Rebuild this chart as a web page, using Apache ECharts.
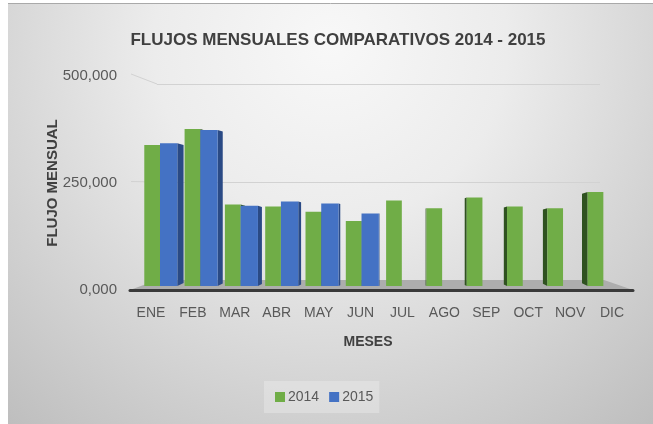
<!DOCTYPE html>
<html>
<head>
<meta charset="utf-8">
<script src="https://cdn.jsdelivr.net/npm/echarts@6/dist/echarts.min.js"></script>
<style>
html,body{margin:0;padding:0;background:#fff;}
#chart{width:653px;height:424px;}
</style>
</head>
<body>
<div id="chart"></div>
<script>
const months = ['ENE','FEB','MAR','ABR','MAY','JUN','JUL','AGO','SEP','OCT','NOV','DIC'];
const flujo2014 = [339000,376000,200000,195000,183000,161000,209000,191000,216000,195000,191000,229000];
const flujo2015 = [343000,374000,197000,207000,202000,179000,null,null,null,null,null,null];
const yTicks = [0,250000,500000];
const yTickLabels = ['0,000','250,000','500,000'];
const seriesNames = ['2014','2015'];

const FONT = '"Liberation Sans","Arial",sans-serif';
const GREEN = '#70ad47', GREEN_SIDE = '#2f5220';
const BLUE = '#4472c4', BLUE_SIDE = '#2a4a85';
const VP = 400;

function makeRender(which){
  return function(params, api){
    const i = api.value(0), v = api.value(1);
    const top = api.coord([i, v]);
    const base = api.coord([i, 0]);
    const band = api.size([1, 0])[0];
    const w = which === 0 ? band * 0.39 : band * 0.43;
    const x0 = which === 0 ? top[0] - w : top[0];
    const x1 = x0 + w;
    const y0 = top[1], y1 = base[1] - 4;
    const front = which === 0 ? GREEN : BLUE;
    const sideC = which === 0 ? GREEN_SIDE : BLUE_SIDE;
    const children = [];
    if (x1 < VP) {
      const sw = (VP - x1) * 0.028;
      children.push({type:'polygon', shape:{points:[[x1,y0],[x1+sw,y0+sw*0.3],[x1+sw,y1-sw*0.5],[x1,y1]]}, style:{fill:sideC}});
    } else if (x0 > VP) {
      const sw = (x0 - VP) * 0.03;
      children.push({type:'polygon', shape:{points:[[x0,y0],[x0-sw,y0+sw*0.3],[x0-sw,y1-sw*0.5],[x0,y1]]}, style:{fill:sideC}});
    }
    children.push({type:'rect', shape:{x:x0, y:y0, width:w, height:y1-y0}, style:{fill:front}});
    return {type:'group', children};
  };
}

const data2014 = flujo2014.map((v,i)=>[i,v]);
const data2015 = flujo2015.map((v,i)=>[i,v]).filter(d=>d[1]!=null);

const chart = echarts.init(document.getElementById('chart'), null, {renderer:'canvas'});
chart.setOption({
  backgroundColor:'#ffffff',
  animation:false,
  title:{
    text:'FLUJOS MENSUALES COMPARATIVOS 2014 - 2015',
    left:333, top:27, textAlign:'center',
    textStyle:{fontFamily:FONT, fontSize:17, fontWeight:'bold', color:'#404040'}
  },
  legend:{
    data:seriesNames,
    left:264, top:381,
    itemWidth:10, itemHeight:10, itemGap:10,
    icon:'rect',
    padding:[9,6,9,11],
    backgroundColor:'rgba(255,255,255,0.25)',
    textStyle:{fontFamily:FONT, fontSize:14, color:'#595959', padding:[0,0,0,-2]}
  },
  graphic:{elements:[
    {type:'rect', z:-100, silent:true, shape:{x:8,y:3,width:645,height:421},
     style:{fill:new echarts.graphic.RadialGradient(0.5,0.1,1.2,[
       {offset:0,color:'#f8f8f8'},{offset:0.35,color:'#ececec'},{offset:1,color:'#bdbdbd'}])}},
    {type:'line', z:-99, silent:true, shape:{x1:8,y1:3.5,x2:653,y2:3.5}, style:{stroke:'#a9a9a9', lineWidth:1}},
    {type:'polygon', z:1, silent:true, shape:{points:[[130,290],[633,290],[604,280],[157,280]]},
     style:{fill:'#adadad'}},
    {type:'line', z:0, silent:true, shape:{x1:131,y1:74,x2:157,y2:84}, style:{stroke:'#d2d2d2', lineWidth:1}},
    {type:'line', z:0, silent:true, shape:{x1:131,y1:181.5,x2:157,y2:182}, style:{stroke:'#d2d2d2', lineWidth:1}}
  ]},
  grid:[
    {left:130, right:20, top:76, bottom:134},
    {left:139.85, right:29.5, top:76, bottom:134},
    {left:157, right:53, top:84, bottom:144}
  ],
  xAxis:[
    {type:'category', gridIndex:0, data:months, z:5,
     axisLine:{lineStyle:{color:'#3a3a3a', width:3}},
     axisTick:{show:false},
     axisLabel:{fontFamily:FONT, fontSize:14, color:'#595959', margin:16, interval:0},
     name:'MESES', nameLocation:'middle', nameGap:45,
     nameTextStyle:{fontFamily:FONT, fontSize:14, fontWeight:'bold', color:'#404040', padding:[0,27,0,0]}},
    {type:'category', gridIndex:1, data:months, show:false},
    {type:'category', gridIndex:2, data:months, show:false}
  ],
  yAxis:[
    {type:'value', gridIndex:0, min:0, max:500000, interval:250000,
     axisLine:{show:false}, axisTick:{show:false}, splitLine:{show:false},
     axisLabel:{fontFamily:FONT, fontSize:15, color:'#595959', margin:13,
       formatter:function(v){ const k = yTicks.indexOf(v); return k>=0 ? yTickLabels[k] : ''; }},
     name:'FLUJO MENSUAL', nameLocation:'middle', nameGap:70, nameRotate:90,
     nameMoveOverlap:false,
     nameTextStyle:{fontFamily:FONT, fontSize:15, fontWeight:'bold', color:'#404040'}},
    {type:'value', gridIndex:1, min:0, max:500000, interval:250000, show:false, splitLine:{show:false}},
    {type:'value', gridIndex:2, min:0, max:500000, interval:250000,
     axisLine:{show:false}, axisTick:{show:false}, axisLabel:{show:false},
     splitLine:{show:true, lineStyle:{color:'#d2d2d2', width:1}}}
  ],
  series:[
    {name:'2014', type:'custom', xAxisIndex:1, yAxisIndex:1, renderItem:makeRender(0),
     itemStyle:{color:GREEN}, encode:{x:0,y:1}, data:data2014, z:2},
    {name:'2015', type:'custom', xAxisIndex:1, yAxisIndex:1, renderItem:makeRender(1),
     itemStyle:{color:BLUE}, encode:{x:0,y:1}, data:data2015, z:3}
  ]
});
</script>
</body>
</html>
